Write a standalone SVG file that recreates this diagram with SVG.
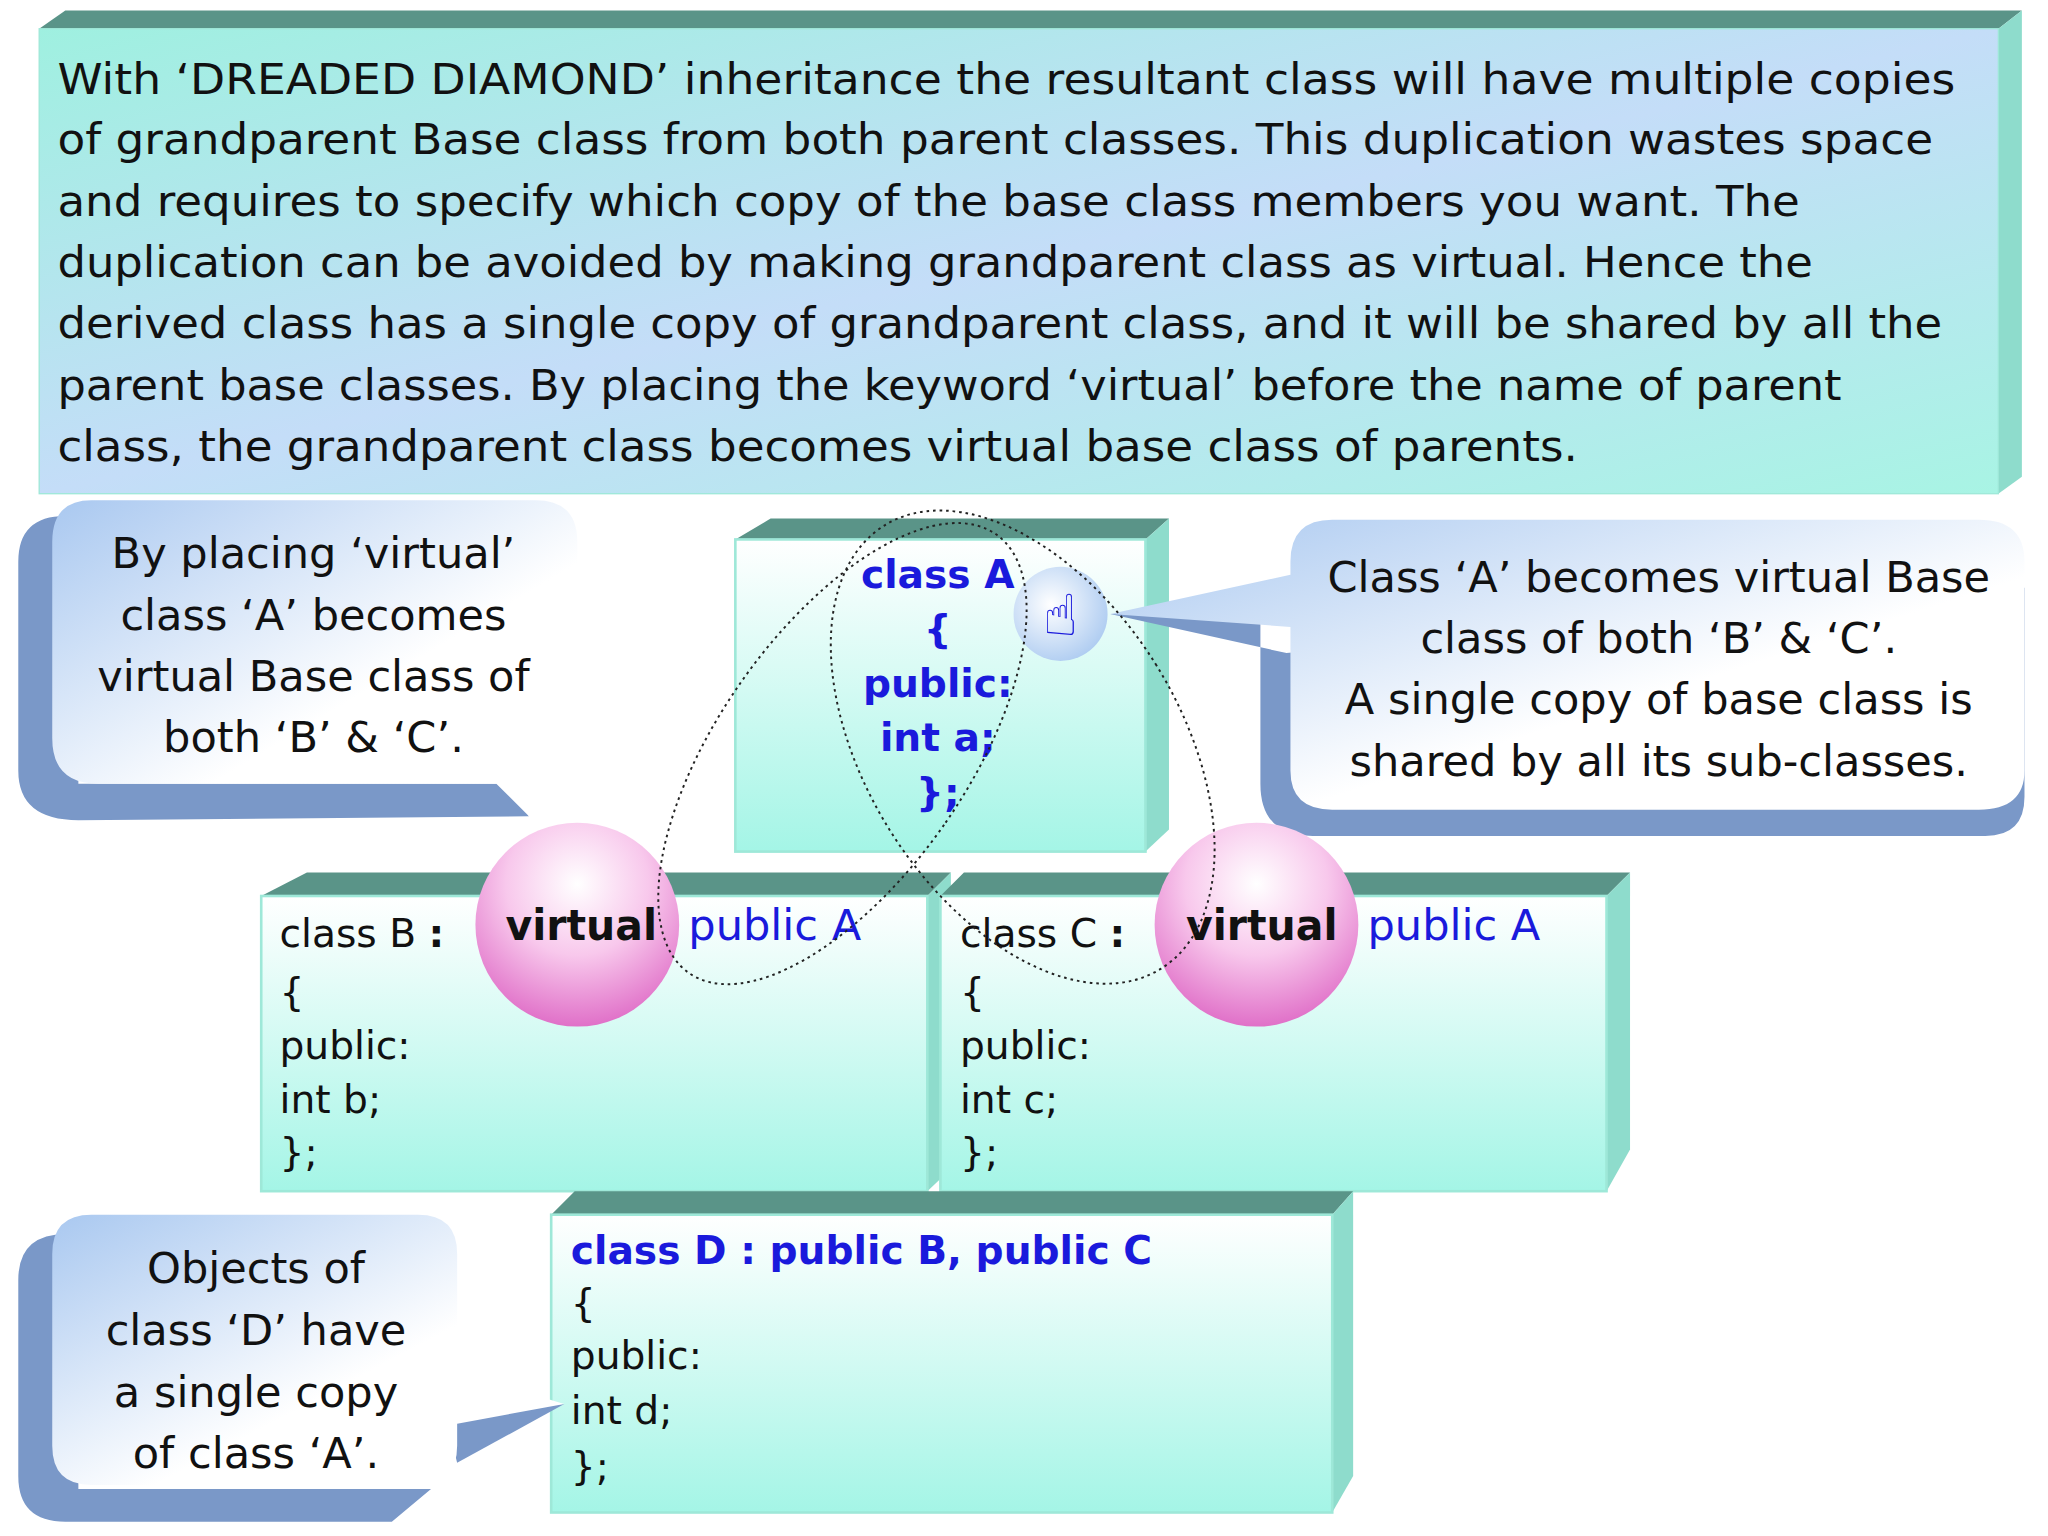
<svg xmlns="http://www.w3.org/2000/svg" width="2048" height="1536" viewBox="0 0 2048 1536">
<defs>
<linearGradient id="top" x1="0" y1="0" x2="1" y2="1"><stop offset="0" stop-color="#9ff0e0"/><stop offset="0.5" stop-color="#c4ddf8"/><stop offset="1" stop-color="#a8f4e4"/></linearGradient>
<linearGradient id="box" x1="0" y1="0" x2="0" y2="1"><stop offset="0" stop-color="#ffffff"/><stop offset="1" stop-color="#a4f5e6"/></linearGradient>
<linearGradient id="call" x1="0" y1="0" x2="1" y2="1"><stop offset="0" stop-color="#a9c8f0"/><stop offset="0.6" stop-color="#ffffff"/><stop offset="1" stop-color="#ffffff"/></linearGradient>
<radialGradient id="pink" cx="0.5" cy="0.3" r="0.7"><stop offset="0" stop-color="#ffffff"/><stop offset="0.5" stop-color="#f8c8ec"/><stop offset="1" stop-color="#e070c8"/></radialGradient>
<radialGradient id="hand" cx="0.4" cy="0.4" r="0.7"><stop offset="0" stop-color="#ffffff"/><stop offset="1" stop-color="#a8c8f0"/></radialGradient>
<style>
text{font-family:"DejaVu Sans","Liberation Sans",sans-serif;}
.big{font-size:33px;fill:#111;}
.code{font-size:30px;fill:#111;}
.bb{font-size:30px;fill:#1a1adc;font-weight:bold;}
.side{fill:#8edccc;}
.bevel{fill:#5a9488;}
.face{fill:url(#box);stroke:#9ee8d8;stroke-width:2;}
.dot{fill:none;stroke:#222;stroke-width:1.5;stroke-dasharray:2 3;}
.shadow{fill:#7a98c8;}
</style>
</defs>
<g transform="scale(1.30612)">
<g id="intro">
<polygon points="30,22 50,8 1548,8 1530,22" class="bevel"/>
<polygon points="1530,22 1548,8 1548,365 1530,378" class="side"/>
<rect x="30" y="22" width="1500" height="356" fill="url(#top)" stroke="#9ee8d8"/>
<text class="big" x="44" y="72" textLength="1453" lengthAdjust="spacingAndGlyphs">With ‘DREADED DIAMOND’ inheritance the resultant class will have multiple copies</text>
<text class="big" x="44" y="118" textLength="1436" lengthAdjust="spacingAndGlyphs">of grandparent Base class from both parent classes. This duplication wastes space</text>
<text class="big" x="44" y="165" textLength="1334" lengthAdjust="spacingAndGlyphs">and requires to specify which copy of the base class members you want. The</text>
<text class="big" x="44" y="212" textLength="1344" lengthAdjust="spacingAndGlyphs">duplication can be avoided by making grandparent class as virtual. Hence the</text>
<text class="big" x="44" y="259" textLength="1443" lengthAdjust="spacingAndGlyphs">derived class has a single copy of grandparent class, and it will be shared by all the</text>
<text class="big" x="44" y="306" textLength="1366" lengthAdjust="spacingAndGlyphs">parent base classes. By placing the keyword ‘virtual’ before the name of parent</text>
<text class="big" x="44" y="353" textLength="1164" lengthAdjust="spacingAndGlyphs">class, the grandparent class becomes virtual base class of parents.</text>
</g>
<g id="callout-left">
<path d="M14,430 Q14,395 50,395 L60,395 L60,600 L390,600 L405,625 L60,628 Q14,628 14,590 Z" class="shadow"/>
<path d="M70,383 L410,383 Q442,383 442,415 L442,570 Q442,600 412,600 L420,600 L405,625 L380,600 L75,600 Q40,600 40,565 L40,415 Q40,383 70,383 Z" fill="url(#call)"/>
<text class="big" x="240" y="435" text-anchor="middle">By placing ‘virtual’</text>
<text class="big" x="240" y="482" text-anchor="middle">class ‘A’ becomes</text>
<text class="big" x="240" y="529" text-anchor="middle">virtual Base class of</text>
<text class="big" x="240" y="576" text-anchor="middle">both ‘B’ &amp; ‘C’.</text>
</g>
<g id="classA">
<polygon points="563,413 590,397 895,397 877,413" class="bevel"/>
<polygon points="877,413 895,397 895,635 877,652" class="side"/>
<rect x="563" y="413" width="314" height="239" class="face"/>
<text class="bb" x="718" y="450" text-anchor="middle">class A</text>
<text class="bb" x="718" y="492" text-anchor="middle">{</text>
<text class="bb" x="718" y="534" text-anchor="middle">public:</text>
<text class="bb" x="718" y="575" text-anchor="middle">int a;</text>
<text class="bb" x="718" y="617" text-anchor="middle">};</text>
</g>
<g id="callout-right">
<path d="M965,470 L965,600 Q965,640 1005,640 L1520,640 Q1550,640 1550,610 L1550,450 L985,500 L850,470 Z" class="shadow"/>
<path d="M1020,398 L1515,398 Q1550,398 1550,430 L1550,590 Q1550,620 1515,620 L1020,620 Q988,620 988,590 L988,480 L850,470 L988,440 L988,430 Q988,398 1020,398 Z" fill="url(#call)"/>
<text class="big" x="1270" y="453" text-anchor="middle">Class ‘A’ becomes virtual Base</text>
<text class="big" x="1270" y="500" text-anchor="middle">class of both ‘B’ &amp; ‘C’.</text>
<text class="big" x="1270" y="547" text-anchor="middle">A single copy of base class is</text>
<text class="big" x="1270" y="594" text-anchor="middle">shared by all its sub-classes.</text>
</g>
<g id="hand-icon">
<circle cx="812" cy="470" r="36" fill="url(#hand)"/>
<text x="812" y="486" font-size="44" text-anchor="middle" fill="#1a1adc">☝</text>
</g>
<g id="classB">
<polygon points="200,686 235,668 728,668 710,686" class="bevel"/>
<polygon points="710,686 728,668 728,895 710,912" class="side"/>
<rect x="200" y="686" width="510" height="226" class="face"/>
<text class="code" x="214" y="725">class B <tspan font-weight="bold">:</tspan></text>
<text class="code" x="214" y="770">{</text>
<text class="code" x="214" y="811">public:</text>
<text class="code" x="214" y="852">int b;</text>
<text class="code" x="214" y="893">};</text>
<circle cx="442" cy="708" r="78" fill="url(#pink)"/>
<text x="387" y="720" font-size="33" font-weight="bold" fill="#111" textLength="116" lengthAdjust="spacingAndGlyphs">virtual</text>
<text x="527" y="720" font-size="33" fill="#1a1adc">public A</text>
</g>
<g id="classC">
<polygon points="720,686 738,668 1248,668 1230,686" class="bevel"/>
<polygon points="1230,686 1248,668 1248,880 1230,912" class="side"/>
<rect x="720" y="686" width="510" height="226" class="face"/>
<text class="code" x="735" y="725">class C <tspan font-weight="bold">:</tspan></text>
<text class="code" x="735" y="770">{</text>
<text class="code" x="735" y="811">public:</text>
<text class="code" x="735" y="852">int c;</text>
<text class="code" x="735" y="893">};</text>
<circle cx="962" cy="708" r="78" fill="url(#pink)"/>
<text x="908" y="720" font-size="33" font-weight="bold" fill="#111" textLength="116" lengthAdjust="spacingAndGlyphs">virtual</text>
<text x="1047" y="720" font-size="33" fill="#1a1adc">public A</text>
</g>
<g id="classD">
<polygon points="422,930 440,912 1036,912 1020,930" class="bevel"/>
<polygon points="1020,930 1036,912 1036,1130 1020,1158" class="side"/>
<rect x="422" y="930" width="598" height="228" class="face"/>
<text class="bb" x="437" y="968">class D : public B, public C</text>
<text class="code" x="437" y="1008">{</text>
<text class="code" x="437" y="1048">public:</text>
<text class="code" x="437" y="1090">int d;</text>
<text class="code" x="437" y="1133">};</text>
</g>
<g id="callout-bottom">
<path d="M14,980 Q14,945 50,945 L60,945 L60,1140 L330,1140 L300,1165 L50,1165 Q14,1165 14,1130 Z" class="shadow"/>
<path d="M340,1080 L432,1075 L350,1120 Z" class="shadow"/>
<path d="M70,930 L320,930 Q350,930 350,960 L350,1050 L432,1075 L350,1090 L350,1107 Q350,1137 320,1137 L70,1137 Q40,1137 40,1107 L40,960 Q40,930 70,930 Z" fill="url(#call)"/>
<text class="big" x="196" y="982" text-anchor="middle">Objects of</text>
<text class="big" x="196" y="1030" text-anchor="middle">class ‘D’ have</text>
<text class="big" x="196" y="1077" text-anchor="middle">a single copy</text>
<text class="big" x="196" y="1124" text-anchor="middle">of class ‘A’.</text>
</g>
<g id="connectors">
<ellipse class="dot" cx="645" cy="577" rx="95" ry="205" transform="rotate(35 645 577)"/>
<ellipse class="dot" cx="783" cy="572" rx="120" ry="200" transform="rotate(-32 783 572)"/>
</g>
</g>
</svg>
